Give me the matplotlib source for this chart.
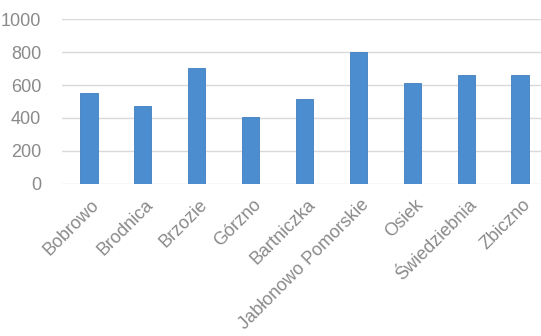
import matplotlib
matplotlib.use("Agg")
import matplotlib.pyplot as plt
from matplotlib import font_manager
import matplotlib.transforms as mtransforms

categories = ["Bobrowo", "Brodnica", "Brzozie", "Górzno", "Bartniczka",
              "Jabłonowo Pomorskie", "Osiek", "Świedziebnia", "Zbiczno"]
values = [553, 473, 702, 404, 515, 803, 611, 663, 663]
yticks = [0, 200, 400, 600, 800, 1000]

names = {f.name for f in font_manager.fontManager.ttflist}
fam = ["Liberation Sans Narrow", "Liberation Sans", "DejaVu Sans"]
fam = [f for f in fam if f in names] + ["DejaVu Sans"]
plt.rcParams['font.family'] = fam

fig = plt.figure(figsize=(5.41, 3.36), dpi=100)
ax = fig.add_axes([0.1146, 0.4533, 0.8964, 0.4893])

x = list(range(len(categories)))
ax.bar(x, values, width=0.32, color="#4b8dcf", edgecolor="#3f7fbf", linewidth=0.6, zorder=3)

ax.set_xlim(-0.5, len(categories) - 0.5)
ax.set_ylim(0, 1000)
ax.set_yticks(yticks)
ax.set_yticklabels([str(v) for v in yticks], fontsize=13, color="#8a8a8a")
ax.grid(axis="y", color="#d9d9d9", linewidth=1.0, zorder=0)
ax.set_axisbelow(True)
for s in ax.spines.values():
    s.set_visible(False)
ax.tick_params(axis="both", length=0)
ax.tick_params(axis="y", pad=15)

ax.set_xticks(x)
ax.set_xticklabels(categories, rotation=45, ha="right", rotation_mode="anchor",
                   fontsize=13, color="#8a8a8a")
ax.tick_params(axis="x", pad=9)
offset = mtransforms.ScaledTranslation(2 / 100, 0, fig.dpi_scale_trans)
for lbl in ax.get_xticklabels():
    lbl.set_transform(lbl.get_transform() + offset)

fig.savefig("out.png", dpi=100)
